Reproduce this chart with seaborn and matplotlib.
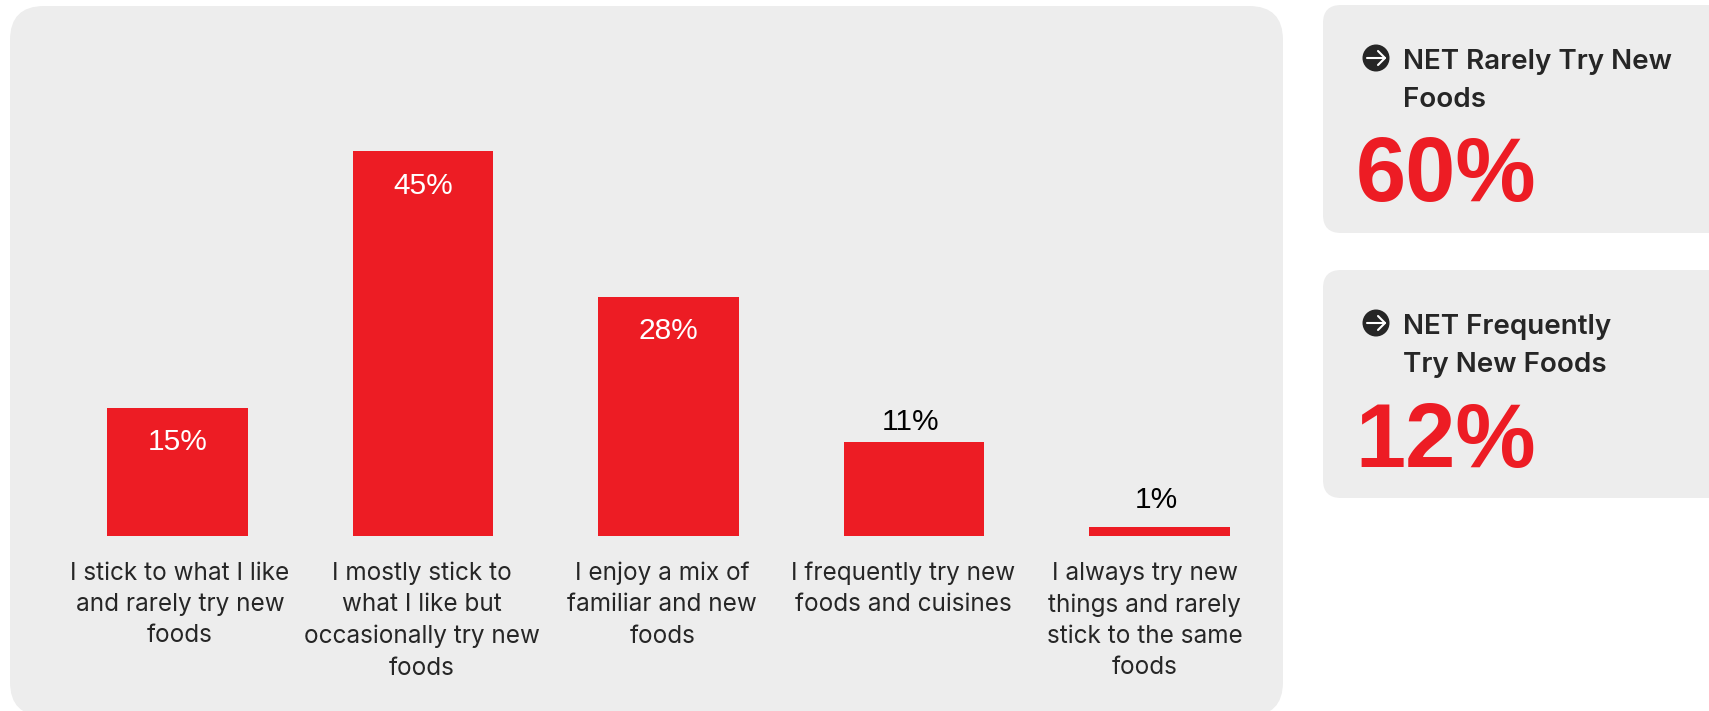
import matplotlib
matplotlib.use("Agg")
import matplotlib.pyplot as plt
import pandas as pd
import seaborn as sns
from matplotlib.patches import Circle, FancyBboxPatch

W, H = 1709, 711
RED = "#ED1C24"
PANEL = "#EDEDED"
INK = "#262626"
BODY_FONT = "Inter"
NUM_FONT = "Liberation Sans"

categories = [
    "I stick to what I like\nand rarely try new\nfoods",
    "I mostly stick to\nwhat I like but\noccasionally try new\nfoods",
    "I enjoy a mix of\nfamiliar and new\nfoods",
    "I frequently try new\nfoods and cuisines",
    "I always try new\nthings and rarely\nstick to the same\nfoods",
]
values = [15, 45, 28, 11, 1]
value_labels = ["15%", "45%", "28%", "11%", "1%"]
net_titles = ["NET Rarely Try New\nFoods", "NET Frequently\nTry New Foods"]
net_values = ["60%", "12%"]

sns.set_theme(style="white", rc={"axes.facecolor": "none", "figure.facecolor": "white"})
plt.rcParams["font.family"] = [BODY_FONT, "DejaVu Sans"]

fig = plt.figure(figsize=(W / 100, H / 100), dpi=100)

# Background layer addressed in pixels, y running downward
bg = fig.add_axes([0, 0, 1, 1])
bg.set_xlim(0, W)
bg.set_ylim(H, 0)
bg.axis("off")


def rounded(x0, y0, x1, y1, radius):
    bg.add_patch(FancyBboxPatch(
        (x0 + radius, y0 + radius), x1 - x0 - 2 * radius, y1 - y0 - 2 * radius,
        boxstyle=f"round,pad={radius},rounding_size={radius}",
        fc=PANEL, ec="none"))


rounded(10, 6, 1283, 716, 34)

# Summary cards on the right, bleeding off the edge
for top, title, net in zip([5, 270], net_titles, net_values):
    rounded(1323, top, 1760, top + 228, 18)
    cy = top + 53
    bg.add_patch(Circle((1376, cy), 13.5, fc=INK, ec="none"))
    bg.plot([1367, 1385], [cy, cy], color="white", lw=1.5, solid_capstyle="round")
    bg.plot([1378, 1385, 1378], [cy - 7, cy, cy + 7], color="white", lw=1.5,
            solid_capstyle="round", solid_joinstyle="round")
    bg.text(1403, cy + 23, title, fontsize=20, fontweight="semibold", color=INK,
            ha="left", va="center", linespacing=1.56)
    bg.text(1536, top + 173, net, fontsize=65, fontweight="bold", color=RED,
            family=NUM_FONT, ha="right", va="center")

# Bar chart: baseline at y=536, 245.5 px per category
left, right = 54.75, 1282.25
base, top_px = 536, 6
ax = fig.add_axes([left / W, 1 - base / H, (right - left) / W, (base - top_px) / H])
df = pd.DataFrame({"category": categories, "value": values})
sns.barplot(data=df, x="category", y="value", color=RED, width=0.574, saturation=1,
            linewidth=0, ax=ax, zorder=2)
ax.set_ylim(0, (base - top_px) / 8.55)
ax.set_xlim(-0.5, 4.5)
ax.set_xlabel("")
ax.set_ylabel("")
ax.set_yticks([])
sns.despine(ax=ax, left=True, bottom=True)

# Category text sits on a slightly tighter pitch than the bars
ax.set_xticks([0.01, 0.995, 1.975, 2.955, 3.94])
ax.set_xticklabels(categories, fontsize=17.5, color=INK, linespacing=1.46, va="top")
ax.tick_params(axis="x", length=0, pad=18.5)
for lab in ax.get_xticklabels():
    lab.set_horizontalalignment("center")

# Percent labels: white inside tall bars, black above short ones
offsets = [(0, -34), (0, -35), (0, -34), (-3, 20), (-3, 27)]
for i, (v, text, off) in enumerate(zip(values, value_labels, offsets)):
    ax.annotate(text, (i, v), xytext=off, textcoords="offset pixels",
                ha="center", va="center", fontsize=21.5, family=NUM_FONT,
                color="white" if v >= 15 else "black")

fig.savefig("out.png", dpi=100)
